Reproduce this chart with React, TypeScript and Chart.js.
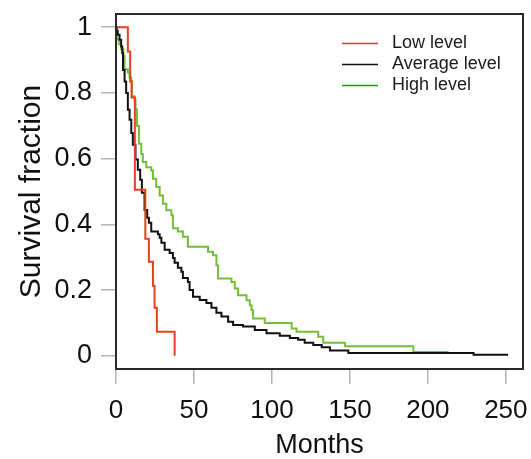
import React, { useEffect, useRef } from "react";
import { Chart, registerables } from "chart.js";

Chart.register(...registerables);

// ---- Data ----
const seriesLabels = ["Low level", "Average level", "High level"];
const xTickValues = [0, 50, 100, 150, 200, 250];
const yTickValues = [0, 0.2, 0.4, 0.6, 0.8, 1];

const lowMonths = [0, 7.6, 9.1, 10, 12.1, 18.8, 21.1, 23.7, 24.7, 26.2, 37.6];
const lowSurv = [1, 0.926, 0.835, 0.786, 0.505, 0.356, 0.286, 0.213, 0.146, 0.073, 0.0];

const avgMonths = [
  0, 0.5, 1.1, 2.25, 3.3, 4, 4.5, 5.5, 6.5, 7.6, 8.7, 9.8, 10.8, 12.5, 14, 15.5, 16.6, 18.3, 20,
  21.1, 22.6, 26.9, 28, 29.1, 31.2, 34.4, 36.5, 37.6, 39.7, 41.9, 42.9, 46.1, 47.2, 49.4, 53.7, 58,
  61.2, 64.4, 67.6, 71.9, 75.1, 81.5, 89, 96.5, 105, 111.5, 116.8, 121, 126.5, 131.9, 137.2, 149,
  229.3, 251.4,
];
const avgSurv = [
  1, 0.988, 0.977, 0.962, 0.941, 0.921, 0.87, 0.835, 0.8, 0.749, 0.718, 0.678, 0.642, 0.597, 0.566,
  0.536, 0.496, 0.444, 0.42, 0.405, 0.378, 0.37, 0.359, 0.344, 0.323, 0.313, 0.298, 0.283, 0.268,
  0.256, 0.237, 0.225, 0.2, 0.18, 0.17, 0.161, 0.146, 0.131, 0.12, 0.104, 0.094, 0.089, 0.079,
  0.069, 0.061, 0.054, 0.049, 0.04, 0.033, 0.026, 0.016, 0.009, 0.003, 0.003,
];

const highMonths = [
  0, 0.5, 1.8, 3.3, 4.8, 5.5, 7.6, 8.7, 9.8, 10.2, 11.9, 12.5, 13.4, 14.7, 16.2, 17.2, 19.4, 22.6,
  23.7, 25.8, 28, 30.1, 32.3, 35.5, 36.5, 39.7, 42.9, 46.1, 59, 62.2, 64.4, 65.4, 74, 76.2, 78.3,
  83.7, 85.8, 86.9, 87.9, 95.4, 112.6, 115.8, 129.7, 132.9, 146.9, 190.7, 213.2,
];
const highSurv = [
  1, 0.963, 0.948, 0.933, 0.912, 0.872, 0.862, 0.846, 0.836, 0.79, 0.78, 0.75, 0.7, 0.645, 0.614,
  0.59, 0.574, 0.564, 0.539, 0.514, 0.488, 0.463, 0.443, 0.428, 0.388, 0.378, 0.362, 0.332, 0.317,
  0.306, 0.276, 0.235, 0.225, 0.205, 0.184, 0.169, 0.154, 0.139, 0.114, 0.1, 0.083, 0.073, 0.058,
  0.04, 0.029, 0.012, 0.012,
];

const lineColors = ["#e8401f", "#111111", "#74bf3a"];
const legendColors = ["#e8333a", "#111111", "#1a9a1a"];

const FONT = "'Liberation Sans', Arial, Helvetica, sans-serif";

function toPoints(xs: number[], ys: number[]) {
  return xs.map((x, i) => ({ x, y: ys[i] }));
}

const framePlugin = {
  id: "frame",
  afterDatasetsDraw(chart: any) {
    const { ctx, chartArea } = chart;
    ctx.save();
    ctx.strokeStyle = "#2a2a2a";
    ctx.lineWidth = 2;
    ctx.strokeRect(chartArea.left, chartArea.top, chartArea.right - chartArea.left, chartArea.bottom - chartArea.top);
    ctx.restore();
  },
};

const legendPlugin = {
  id: "customLegend",
  afterDraw(chart: any) {
    const { ctx } = chart;
    const lineX0 = 342;
    const lineX1 = 378;
    const textX = 392;
    const rowY = [43.5, 64.5, 85.5];
    ctx.save();
    ctx.font = `18px ${FONT}`;
    ctx.textBaseline = "middle";
    ctx.textAlign = "left";
    chart.data.datasets.forEach((ds: any, i: number) => {
      ctx.strokeStyle = legendColors[i];
      ctx.lineWidth = 1.5;
      ctx.beginPath();
      ctx.moveTo(lineX0, rowY[i]);
      ctx.lineTo(lineX1, rowY[i]);
      ctx.stroke();
      ctx.fillStyle = "#1a1a1a";
      ctx.fillText(ds.label, textX, rowY[i]);
    });
    ctx.restore();
  },
};

export default function App() {
  const canvasRef = useRef<HTMLCanvasElement | null>(null);

  useEffect(() => {
    document.body.style.margin = "0";
    const canvas = canvasRef.current;
    if (!canvas) return;
    const datasets = [
      toPoints(lowMonths, lowSurv),
      toPoints(avgMonths, avgSurv),
      toPoints(highMonths, highSurv),
    ].map((data, i) => ({
      label: seriesLabels[i],
      data,
      borderColor: lineColors[i],
      backgroundColor: lineColors[i],
      borderWidth: 2,
      pointRadius: 0,
      stepped: "before" as const,
      fill: false,
    }));

    const chart = new Chart(canvas, {
      type: "line",
      data: { datasets },
      options: {
        responsive: false,
        animation: false,
        devicePixelRatio: 1,
        layout: { padding: { left: 0, top: 14, right: 8, bottom: 0 } },
        plugins: { legend: { display: false }, tooltip: { enabled: false } },
        scales: {
          x: {
            type: "linear",
            min: 0,
            max: 261,
            afterBuildTicks: (scale: any) => {
              scale.ticks = xTickValues.map((v) => ({ value: v }));
            },
            afterFit: (scale: any) => {
              scale.height = 90;
              scale.paddingLeft = 0;
              scale.paddingRight = 0;
            },
            border: { display: false },
            grid: {
              drawOnChartArea: false,
              drawTicks: true,
              tickLength: 15,
              color: "#b5b5b5",
              lineWidth: 1.5,
            },
            ticks: {
              autoSkip: false,
              maxRotation: 0,
              padding: 11,
              color: "#111",
              font: { family: FONT, size: 26 },
              callback: (v: any) => String(v),
            },
            title: {
              display: true,
              text: "Months",
              color: "#111",
              font: { family: FONT, size: 27, lineHeight: 1.0 },
              padding: { top: 0, bottom: 0 },
            },
          },
          y: {
            type: "linear",
            min: -0.04,
            max: 1.04,
            afterBuildTicks: (scale: any) => {
              scale.ticks = yTickValues.map((v) => ({ value: v }));
            },
            afterFit: (scale: any) => {
              scale.width = 116;
              scale.paddingTop = 0;
              scale.paddingBottom = 0;
            },
            border: { display: false },
            grid: {
              drawOnChartArea: false,
              drawTicks: true,
              tickLength: 15,
              color: "#b5b5b5",
              lineWidth: 1.5,
            },
            ticks: {
              autoSkip: false,
              padding: 9,
              color: "#111",
              font: { family: FONT, size: 27 },
              callback: (v: any) => String(Number(Number(v).toFixed(1))),
            },
            title: {
              display: true,
              text: "Survival fraction",
              color: "#111",
              font: { family: FONT, size: 30 },
              padding: { top: 14, bottom: 0 },
            },
          },
        },
      },
      plugins: [framePlugin, legendPlugin],
    });
    return () => chart.destroy();
  }, []);

  return (
    <div style={{ width: 531, height: 459, background: "#ffffff" }}>
      <canvas ref={canvasRef} width={531} height={459} style={{ display: "block" }} />
    </div>
  );
}
